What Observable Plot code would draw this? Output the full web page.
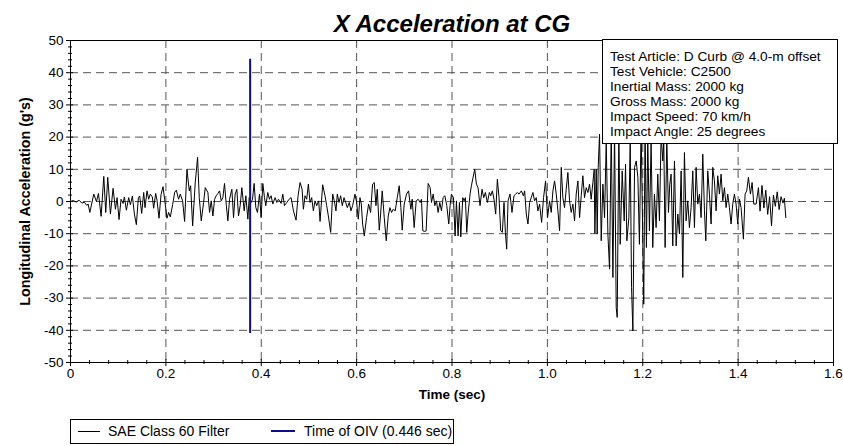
<!DOCTYPE html>
<html><head><meta charset="utf-8">
<script src="https://cdn.jsdelivr.net/npm/d3@7"></script>
<script src="https://cdn.jsdelivr.net/npm/@observablehq/plot@0.6"></script>
<style>
body{margin:0;background:#fff;}
#chart{position:relative;width:843px;height:446px;font-family:"Liberation Sans",Arial,sans-serif;color:#000;}
#chart svg{position:absolute;left:0;top:0;}
.info{position:absolute;left:602px;top:39px;width:236px;height:105px;box-sizing:border-box;border:1px solid #000;background:#fff;padding:9px 0 0 7px;font-size:13.7px;line-height:15px;white-space:nowrap;}
.legend{position:absolute;left:70px;top:419px;width:384px;height:25px;box-sizing:border-box;border:1px solid #000;background:#fff;font-size:14px;}
.legend .sw{position:absolute;}
.legend .lb{position:absolute;top:0;line-height:23px;white-space:nowrap;}
</style>
</head><body>
<div id="chart"></div>
<script>
const chartTitle = "X Acceleration at CG";
const xTitle = "Time (sec)";
const yTitle = "Longitudinal Acceleration (g's)";
const infoLines = ["Test Article: D Curb @ 4.0-m offset","Test Vehicle: C2500","Inertial Mass: 2000 kg","Gross Mass: 2000 kg","Impact Speed: 70 km/h","Impact Angle: 25 degrees"];
const seriesNames = ["SAE Class 60 Filter", "Time of OIV (0.446 sec)"];
const seriesColors = ["#000000", "#0c0c8e"];

const xMajorTicks = [0,0.2,0.4,0.6,0.8,1.0,1.2,1.4,1.6];
const xMinorTicks = [0.04,0.08,0.12,0.16,0.24,0.28,0.32,0.36,0.44,0.48,0.52,0.56,0.64,0.68,0.72,0.76,0.84,0.88,0.92,0.96,1.04,1.08,1.12,1.16,1.24,1.28,1.32,1.36,1.44,1.48,1.52,1.56];
const yMajorTicks = [-50,-40,-30,-20,-10,0,10,20,30,40,50];
const yMinorTicks = [-48,-46,-44,-42,-38,-36,-34,-32,-28,-26,-24,-22,-18,-16,-14,-12,-8,-6,-4,-2,2,4,6,8,12,14,16,18,22,24,26,28,32,34,36,38,42,44,46,48];

const oivTime = [0.3767];
const oivLow = -41;
const oivHigh = 44.2;

const timeSec = [
0.000,0.006,0.012,0.018,0.024,0.029,0.034,0.037,0.0405,0.0488,0.0544,0.0586,0.0642,0.0698,0.0739,0.0781,0.0837,0.0893,0.0942,0.0977,
0.1018,0.1060,0.1102,0.1130,0.1172,0.1220,0.1256,0.1298,0.1340,0.1381,0.1423,0.1451,0.1493,0.1535,0.1563,0.1605,0.1639,0.1674,0.1716,0.1744,
0.1786,0.1814,0.1856,0.1898,0.1940,0.1974,0.2023,0.2058,0.2093,0.2142,0.2184,0.2219,
0.2267,0.2302,0.2351,0.2393,0.2442,0.2491,0.2519,0.2561,0.2616,0.2665,0.2700,0.2742,0.2791,0.2826,0.2881,0.2916,0.2951,0.2986,0.3021,0.3056,
0.3091,0.3126,0.3161,0.3195,0.3230,0.3265,0.3300,0.3335,0.3384,0.3419,0.3453,0.3488,0.3523,0.3558,0.3593,0.3642,0.3677,0.3719,0.3747,0.3789,
0.3817,0.3851,0.3886,0.3921,0.3963,0.3998,0.4033,0.4068,0.4095,0.4137,0.4172,0.4207,0.4242,0.4291,0.4326,0.4361,0.4417,0.4452,0.4487,0.4536,
0.4584,0.4626,0.4675,
0.4730,0.4772,0.4814,0.4856,0.4884,0.4918,0.4953,0.4988,0.5023,0.5058,0.5093,0.5128,0.5163,0.5205,0.5233,0.5288,0.5337,0.5372,0.5407,0.5456,
0.5498,0.5532,0.5567,0.5595,0.5630,0.5665,0.5700,0.5735,0.5770,0.5805,0.5846,0.5881,0.5916,0.5965,0.6000,0.6035,0.6070,0.6098,0.6126,0.6161,
0.6209,0.6251,0.6293,0.6335,0.6370,0.6405,0.6433,0.6475,0.6503,0.6537,0.6579,0.6621,0.6663,0.6698,0.6733,0.6768,0.6810,0.6852,0.6893,0.6928,
0.6956,0.6998,0.7047,0.7089,
0.7137,0.7165,0.7207,0.7249,0.7290,0.7332,0.7360,0.7388,0.7430,0.7458,0.7500,0.7542,0.7570,0.7605,0.7640,0.7674,0.7709,0.7744,0.7779,0.7814,
0.7849,0.7891,0.7932,0.7960,0.7988,0.8030,0.8065,0.8093,0.8128,0.8156,0.8184,0.8226,0.8254,0.8281,0.8309,0.8337,0.8379,0.8407,0.8442,0.8477,
0.8512,0.8546,0.8588,0.8630,0.8665,0.8700,0.8742,0.8784,0.8812,0.8846,0.8881,0.8916,0.8951,0.8986,0.9021,0.9056,0.9091,0.9119,0.9147,0.9175,
0.9217,0.9258,0.9300,0.9335,0.9370,0.9405,0.9454,0.9496,
0.9523,0.9558,0.9593,0.9628,0.9662,0.9697,0.9732,0.9767,0.9802,0.9837,0.9879,0.9920,0.9962,1.0004,1.0046,1.0081,1.0116,1.0151,1.0186,1.0221,
1.0256,1.0291,1.0325,1.0360,1.0395,1.0430,1.0465,1.0500,1.0535,1.0570,1.0605,1.0640,1.0675,1.0710,1.0744,1.0779,1.0814,1.0849,1.0884,1.0919,
1.0954,1.0982,1.0996,1.1024,1.1045,1.1066,1.1094,1.1129,1.1164,1.1199,1.1234,1.1269,1.1304,1.1339,1.1374,1.1409,1.1443,1.1464,1.1499,1.1527,
1.1569,1.1611,1.1639,1.1667,1.1709,1.1737,1.1765,1.1793,1.1828,1.1863,1.1898,
1.1930,1.1965,1.2021,1.2049,1.2077,1.2105,1.2140,1.2175,1.2210,1.2245,1.2280,1.2315,1.2350,1.2385,1.2420,1.2441,1.2469,1.2504,1.2539,1.2567,
1.2595,1.2630,1.2665,1.2700,1.2735,1.2770,1.2805,1.2840,1.2874,1.2909,1.2944,1.2979,1.3014,1.3049,1.3084,1.3119,1.3154,1.3189,1.3224,1.3259,
1.3294,1.3322,1.3363,1.3398,1.3433,1.3468,1.3503,1.3538,1.3573,1.3608,1.3643,1.3678,1.3713,1.3748,1.3783,1.3818,1.3852,1.3887,1.3922,1.3957,
1.3992,1.4027,1.4062,1.4111,1.4146,1.4181,1.4216,1.4258,1.4293,1.4328,1.4377,1.4426,
1.4460,1.4500,1.4540,1.4580,1.4620,1.4660,1.4700,1.4740,1.4780,1.4820,1.4860,1.4900,1.4940,1.4970,1.5000
];
const accelG = [
0.0,0.3,-0.2,0.4,-0.5,-0.2,-1.2,-0.8,-3.4,2.3,0.0,2.5,-4.6,7.8,-3.4,7.5,-3.9,4.1,-2.4,1.2,
-5.6,0.7,-0.6,1.4,-2.7,1.2,-1.0,1.7,-3.9,-7.2,1.2,1.7,-3.7,2.8,-1.9,3.3,0.7,2.3,1.4,-2.1,
2.5,0.4,-5.2,2.1,4.6,0.7,-5.2,-3.4,-4.8,-1.0,2.8,3.5,
0.7,2.3,0.2,-6.2,10.0,3.3,4.9,-7.6,5.9,13.7,1.2,-6.0,-0.3,4.3,2.8,-3.4,0.2,-4.5,0.7,1.8,
2.5,3.3,0.2,1.2,5.6,-0.8,-6.0,0.7,3.8,-5.0,2.3,3.8,-4.5,-1.3,4.3,-2.9,1.8,-5.5,1.2,-0.3,
0.7,5.6,-1.9,-3.4,2.3,-5.0,5.6,1.2,-1.3,2.8,0.7,1.8,-0.8,1.2,-0.3,0.7,-0.6,2.3,-1.3,-0.3,
0.7,1.2,-2.9,
-5.8,1.8,5.9,3.8,-2.4,1.8,0.7,5.4,-0.3,1.2,-2.9,0.2,-1.3,0.2,-6.2,5.2,1.8,-1.3,-4.5,-9.6,
2.3,0.2,-2.9,2.3,-0.3,1.8,-1.3,1.2,-0.3,-1.9,-0.3,-2.9,-1.3,2.3,-0.3,-5.5,1.2,-0.8,-7.0,-10.7,
-5.0,-0.8,-3.4,5.4,5.9,-1.3,3.8,-8.9,-3.9,3.3,-5.0,-12.2,-4.5,-1.9,-3.4,-2.4,-2.9,1.2,4.9,-1.9,
-8.9,-0.8,2.3,3.3,
-2.4,0.7,-8.1,0.2,0.7,-0.3,0.7,-9.1,-9.3,-9.1,5.6,4.3,-0.3,2.3,-1.3,0.2,-3.4,-0.3,-2.9,1.2,
1.8,-1.3,-7.0,-1.3,2.3,1.2,-10.7,0.2,-10.7,-0.3,-11.0,1.2,0.2,1.2,-9.6,-3.9,2.3,4.9,7.5,10.0,
5.4,4.3,-1.3,3.8,1.2,2.8,-0.3,2.8,1.8,3.3,0.7,-3.9,6.9,1.2,-9.1,-9.6,-0.3,-9.6,-14.8,0.2,
2.3,-3.4,1.8,2.3,2.8,2.3,3.3,1.8,
3.3,-3.9,-7.0,-0.3,1.2,2.8,0.2,1.2,-2.9,-0.8,-6.5,1.2,6.4,-5.0,0.2,-3.4,3.3,6.4,2.3,-2.9,
-9.1,10.6,1.2,-1.9,3.8,9.0,0.2,-3.4,-0.8,-6.0,2.3,6.4,-5.0,1.8,8.0,1.2,4.3,2.8,5.4,0.7,
5.9,10.0,-9.9,10.0,-10.1,10.6,20.9,-12.2,5.4,-5.0,18.8,-10.1,-21.0,23.0,-23.6,22.0,-32.9,-36.0,21.0,-13.3,
9.5,-6.0,11.6,-12.2,-5.0,18.8,-26.7,-40.2,10.6,12.6,7.5,
-13.3,23.0,-31.9,23.0,-14.3,19.9,-9.1,18.8,-14.3,2.3,-8.1,8.5,-6.0,20.9,12.6,18.8,-14.3,19.9,-3.4,5.4,
8.5,-13.8,12.6,-13.8,-3.9,-10.1,9.5,-23.6,15.2,-6.0,0.2,-8.1,-1.9,9.5,-8.1,10.6,-0.8,2.3,-5.0,14.7,
-2.9,-12.2,9.5,2.3,-7.0,10.6,6.4,-2.9,8.0,2.3,8.5,0.2,4.3,-1.9,2.3,-1.9,-7.0,-0.8,2.3,-0.8,
-7.0,0.7,-1.9,-11.7,2.3,3.3,7.5,2.3,5.9,-0.8,-0.8,4.3,
-3.0,5.0,-2.0,3.5,-4.0,1.5,-7.5,2.0,-1.5,3.0,-2.5,1.5,-0.5,1.0,-5.0
];

const data = timeSec.map((t, i) => ({t, g: accelG[i]}));
const font = "'Liberation Sans', Arial, sans-serif";
const fmtX = d => d === 0 ? "0" : d.toFixed(1);

const plot = Plot.plot({
  width: 843,
  height: 446,
  marginTop: 40,
  marginBottom: 84,
  marginLeft: 70,
  marginRight: 10,
  style: {fontFamily: font, background: "white", color: "black", fontSize: "13.5px"},
  x: {domain: [0, 1.6]},
  y: {domain: [-50, 50]},
  marks: [
    Plot.gridX(xMajorTicks, {stroke: "#555", strokeOpacity: 1, strokeDasharray: "8,5"}),
    Plot.gridY(yMajorTicks, {stroke: "#555", strokeOpacity: 1, strokeDasharray: "8,5"}),
    Plot.line(data, {x: "t", y: "g", stroke: seriesColors[0], strokeWidth: 1}),
    Plot.ruleX(oivTime, {x: d => d, y1: oivLow, y2: oivHigh, stroke: seriesColors[1], strokeWidth: 2}),
    Plot.frame({stroke: "black"}),
    Plot.axisY(yMajorTicks, {tickSize: 7, dx: 3, fill: "none", label: null}),
    Plot.axisY(yMinorTicks, {tickSize: 4, dx: 2, fill: "none", label: null}),
    Plot.axisY(yMajorTicks, {tickSize: 0, tickPadding: 7, label: null, tickFormat: d => String(d), fontSize: 13.5}),
    Plot.axisX(xMajorTicks, {tickSize: 7, dy: -3, fill: "none", label: null}),
    Plot.axisX(xMinorTicks, {tickSize: 4, dy: -2, fill: "none", label: null}),
    Plot.axisX(xMajorTicks, {tickSize: 0, tickPadding: 6, label: null, tickFormat: fmtX, fontSize: 13.5}),
    Plot.text([yTitle], {text: d => d, frameAnchor: "left", textAnchor: "middle", lineAnchor: "middle", rotate: -90, dx: -45, fontWeight: "bold", fontSize: 14.3}),
    Plot.text([xTitle], {text: d => d, frameAnchor: "bottom", dy: 36, fontWeight: "bold", fontSize: 13.5}),
    Plot.text([chartTitle], {text: d => d, frameAnchor: "top", dy: -26, fontWeight: "bold", fontStyle: "italic", fontSize: 24})
  ]
});

const chart = document.getElementById("chart");
chart.appendChild(plot);

const info = document.createElement("div");
info.className = "info";
info.innerHTML = infoLines.map(s => `<div>${s}</div>`).join("");
chart.appendChild(info);

const legend = document.createElement("div");
legend.className = "legend";
legend.innerHTML =
  `<div class="sw" style="left:7px;top:11px;width:22px;height:1px;background:${seriesColors[0]}"></div>` +
  `<div class="lb" style="left:37px">${seriesNames[0]}</div>` +
  `<div class="sw" style="left:200px;top:10px;width:24px;height:2px;background:${seriesColors[1]}"></div>` +
  `<div class="lb" style="left:233px">${seriesNames[1]}</div>`;
chart.appendChild(legend);
</script>
</body></html>
